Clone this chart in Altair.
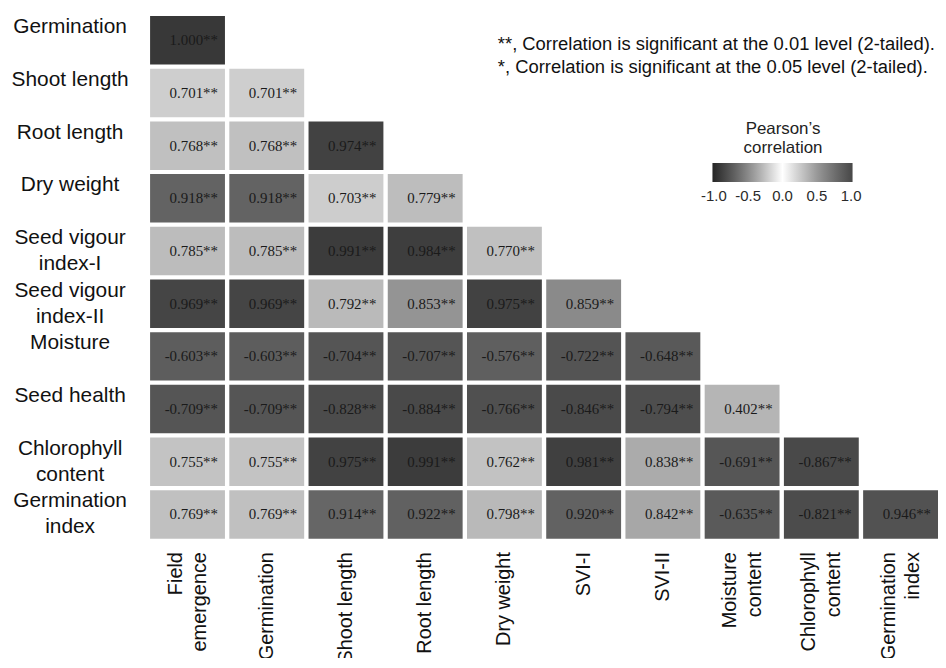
import altair as alt
import pandas as pd

# ---- data ----
row_names = ["Germination", "Shoot length", "Root length", "Dry weight",
             "Seed vigour|index-I", "Seed vigour|index-II", "Moisture",
             "Seed health", "Chlorophyll|content", "Germination|index"]
col_names = ["Field|emergence", "Germination", "Shoot length", "Root length",
             "Dry weight", "SVI-I", "SVI-II", "Moisture|content",
             "Chlorophyll|content", "Germination|index"]

r_germination = [1.000]
r_shoot = [0.701, 0.701]
r_root = [0.768, 0.768, 0.974]
r_dry = [0.918, 0.918, 0.703, 0.779]
r_svi1 = [0.785, 0.785, 0.991, 0.984, 0.770]
r_svi2 = [0.969, 0.969, 0.792, 0.853, 0.975, 0.859]
r_moist = [-0.603, -0.603, -0.704, -0.707, -0.576, -0.722, -0.648]
r_health = [-0.709, -0.709, -0.828, -0.884, -0.766, -0.846, -0.794, 0.402]
r_chloro = [0.755, 0.755, 0.975, 0.991, 0.762, 0.981, 0.838, -0.691, -0.867]
r_gi = [0.769, 0.769, 0.914, 0.922, 0.798, 0.920, 0.842, -0.635, -0.821, 0.946]
row_values = [r_germination, r_shoot, r_root, r_dry, r_svi1, r_svi2,
              r_moist, r_health, r_chloro, r_gi]
signif = "**"

note1 = "**, Correlation is significant at the 0.01 level (2-tailed)."
note2 = "*, Correlation is significant at the 0.05 level (2-tailed)."
legend_values = [-1.0, -0.5, 0.0, 0.5, 1.0]

records = []
for rn, vals in zip(row_names, row_values):
    for cn, v in zip(col_names, vals):
        records.append({"row": rn, "col": cn, "r": v,
                        "label": f"{v:.3f}{signif}"})
df = pd.DataFrame(records)

W, H = 793, 526
band_w = W / (10 - 0.055) * (1 - 0.055)

x_enc = alt.X("col:N", sort=col_names, title=None,
              scale=alt.Scale(paddingInner=0.055, paddingOuter=0),
              axis=alt.Axis(orient="bottom", domain=False, ticks=False, tickSize=0,
                            labelAngle=270, labelAlign="right", labelBaseline="middle",
                            labelPadding=13,
                            labelOffset={"condition": {"test": "indexof(datum.value, '|') >= 0",
                                                       "value": -12}, "value": 0},
                            labelFontSize=20, labelFont="Liberation Sans",
                            labelColor="#111111", labelLineHeight=25,
                            labelExpr="split(datum.label, '|')"))
y_enc = alt.Y("row:N", sort=row_names, title=None,
              scale=alt.Scale(paddingInner=0.08, paddingOuter=0),
              axis=alt.Axis(orient="left", domain=False, ticks=False, tickSize=0,
                            labelAlign="center", labelBaseline="middle",
                            labelPadding=81, labelOffset=-13,
                            labelFontSize=21, labelFont="Liberation Sans",
                            labelColor="#111111", labelLineHeight=26,
                            labelExpr="split(datum.label, '|')"))

cell_scale = alt.Scale(
    domain=[-1.0, -0.85, -0.55, 0.0, 0.4, 0.7, 0.76, 0.8, 0.84, 0.86, 0.92, 0.97, 1.0],
    range=["#444444", "#4a4a4a", "#616161", "#ffffff", "#b5b5b5", "#cecece",
           "#c2c2c2", "#b8b8b8", "#aaaaaa", "#888888", "#626262", "#444444", "#383838"],
    interpolate="rgb")

cells = alt.Chart(df).mark_rect().encode(
    x=x_enc, y=y_enc,
    color=alt.Color("r:Q", scale=cell_scale, legend=None))

texts = alt.Chart(df).mark_text(
    align="right", baseline="middle", dx=band_w / 2 - 7,
    font="Liberation Serif", fontSize=15, color="#1a1a1a").encode(
    x=alt.X("col:N", sort=col_names), y=alt.Y("row:N", sort=row_names), text="label:N")

legend_df = pd.DataFrame({"v": legend_values})
legend_layer = alt.Chart(legend_df).mark_point(opacity=0, size=0).encode(
    x=alt.value(0), y=alt.value(0),
    color=alt.Color("v:Q",
                    scale=alt.Scale(domain=[-1.02, -0.5, 0, 0.5, 1.02],
                                    range=["#262626", "#8a8a8a", "#ffffff", "#999999", "#474747"]),
                    legend=alt.Legend(
                        title=["Pearson\u2019s", "correlation"], orient="none",
                        legendX=566, legendY=106, direction="horizontal",
                        gradientLength=141, gradientThickness=19,
                        gradientStrokeWidth=0,
                        values=legend_values, labelOverlap=False,
                        labelExpr="(datum.value < 0 ? '-' : '') + format(abs(datum.value), '.1f')",
                        labelAlign="center", labelFontSize=15, labelColor="#2a2a2a",
                        labelFont="Liberation Sans", labelOffset=7,
                        titleFont="Liberation Sans", titleFontSize=17,
                        titleFontWeight="normal", titleColor="#222222",
                        titleAlign="center", titleAnchor="middle", titlePadding=6,
                        titleLineHeight=19)))

n1 = alt.Chart(pd.DataFrame({"t": [note1]})).mark_text(
    align="left", baseline="alphabetic", font="Liberation Sans", fontSize=18.5,
    color="#111111").encode(x=alt.value(350), y=alt.value(34), text="t:N")
n2 = alt.Chart(pd.DataFrame({"t": [note2]})).mark_text(
    align="left", baseline="alphabetic", font="Liberation Sans", fontSize=18.5,
    color="#111111").encode(x=alt.value(350), y=alt.value(57), text="t:N")

chart = alt.layer(cells, texts, legend_layer, n1, n2).resolve_scale(
    color="independent").properties(
    width=W, height=H,
    autosize=alt.AutoSizeParams(type="none"),
    padding={"left": 143, "top": 6, "right": 0, "bottom": 118},
    background="white").configure_view(stroke=None)

chart.save("out.html", embed_options={"renderer": "svg", "actions": False})
